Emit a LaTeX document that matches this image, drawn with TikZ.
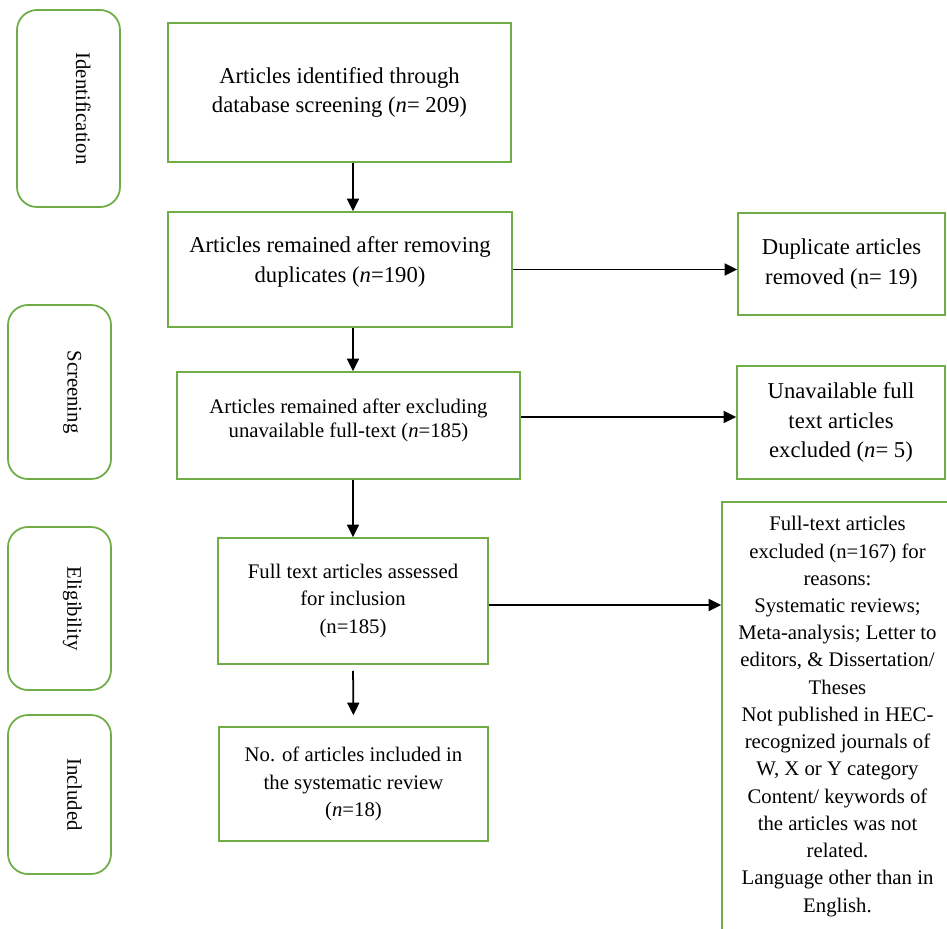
\documentclass[tikz,border=0pt]{standalone}
\usepackage{fontspec}
\setmainfont{Liberation Serif}
\usepackage{tikz}
\usetikzlibrary{positioning, arrows.meta}

\definecolor{boxgreen}{HTML}{70AD47}

\begin{document}
\begin{tikzpicture}[
    box/.style={rectangle, draw=boxgreen, line width=1pt, inner sep=0pt, align=center},
    stage/.style={rectangle, rounded corners=0.4cm, draw=boxgreen, line width=1pt, inner sep=0pt, rotate=-90, text depth=0.6cm, font=\fontsize{11.8}{15.5}\selectfont},
    bigtext/.style={font=\fontsize{12.9}{17}\selectfont},
    smalltext/.style={font=\fontsize{11.8}{15.8}\selectfont},
    >={Triangle[length=0.25cm, width=0.24cm]},
    flow/.style={draw=black, line width=1pt}
  ]
    \useasboundingbox (0, 0) rectangle (18.94, -18.56);

    % stages
    \node[stage, minimum width=3.94cm, minimum height=2.06cm] (ident) at (1.37, -2.17) {Identification};
    \node[stage, minimum width=3.48cm, minimum height=2.06cm] (screen) at (1.19, -7.84) {Screening};
    \node[stage, minimum width=3.26cm, minimum height=2.06cm] (elig) at (1.19, -12.17) {Eligibility};
    \node[stage, minimum width=3.18cm, minimum height=2.06cm] (incl) at (1.19, -15.89) {Included};

    % main flow
    \node[box, bigtext, minimum width=6.86cm, minimum height=2.78cm] (found) at (6.79, -1.85) {Articles identified through\\database screening (\textit{n}= 209)};
    \node[box, bigtext, minimum width=6.88cm, minimum height=2.30cm] (dedup) at (6.80, -5.39) {\begin{tabular}{@{}c@{}}Articles remained after removing\\duplicates (\textit{n}=190)\\[0.32cm]\end{tabular}};
    \node[box, font=\fontsize{11.8}{13.6}\selectfont, minimum width=6.86cm, minimum height=2.14cm] (avail) at (6.97, -8.51) {\begin{tabular}{@{}c@{}}Articles remained after excluding\\unavailable full-text (\textit{n}=185)\\[0.2cm]\end{tabular}};
    \node[box, smalltext, minimum width=5.40cm, minimum height=2.52cm] (assess) at (7.06, -12.02) {Full text articles assessed\\for inclusion\\(n=185)};
    \node[box, smalltext, minimum width=5.38cm, minimum height=2.28cm] (final) at (7.07, -15.68) {No. of articles included in\\the systematic review\\(\textit{n}=18)};

    % exclusions
    \node[box, bigtext, minimum width=4.14cm, minimum height=2.04cm] (dupl) at (16.83, -5.28) {Duplicate articles\\removed (n= 19)};
    \node[box, bigtext, minimum width=4.16cm, minimum height=2.26cm] (unavail) at (16.82, -8.45) {Unavailable full\\text articles\\excluded (\textit{n}= 5)};
    \node[box, font=\fontsize{11.8}{15.5}\selectfont, minimum width=5.22cm, minimum height=8.56cm] (excl) at (17.05, -14.32) {\begin{tabular}{@{}c@{}}Full-text articles\\excluded (n=167) for\\reasons:\\Systematic reviews;\\Meta-analysis; Letter to\\editors, \& Dissertation/\\Theses\\Not published in HEC-\\recognized journals of\\W, X or Y category\\Content/ keywords of\\the articles was not\\related.\\Language other than in\\English.\end{tabular}\hspace{0.6cm}};

    \path (found.south -| assess) edge[flow, ->] (dedup.north -| assess);
    \path (dedup.south -| assess) edge[flow, ->] (avail.north -| assess);
    \path (avail.south -| assess) edge[flow, ->] (assess.north);
    \path (assess.south) edge[flow, ->, shorten <=0.12cm, shorten >=0.22cm] (final.north);

    \path (dedup.east) edge[flow, ->] (dedup.east -| dupl.west);
    \path ([yshift=0.17cm]avail.east) edge[flow, ->] ([yshift=0.17cm]avail.east -| unavail.west);
    \path ([yshift=-0.08cm]assess.east) edge[flow, ->] ([yshift=-0.08cm]assess.east -| excl.west);
\end{tikzpicture}
\end{document}
